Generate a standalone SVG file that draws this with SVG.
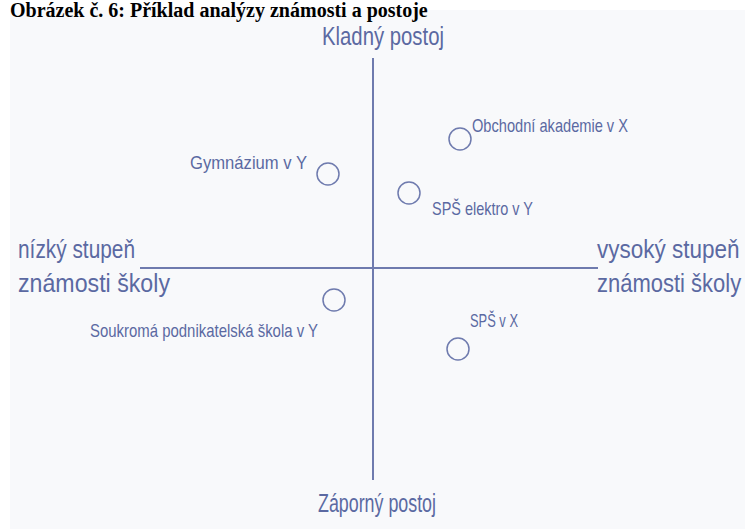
<svg xmlns="http://www.w3.org/2000/svg" width="755" height="529" viewBox="0 0 755 529">
<style>
.t{font-family:"Liberation Sans",Arial,sans-serif;fill:#5b69a2;}
.big{font-size:25px;}
.sm{font-size:19px;}
.ax{stroke:#6f7bae;stroke-width:2;fill:none;}
.dot{stroke:#6f7bae;stroke-width:1.5;fill:none;}
.title{font-family:"Liberation Serif","Times New Roman",serif;font-weight:bold;font-size:20px;fill:#000;}
</style>
<rect width="755" height="529" fill="#ffffff"/>
<rect x="10" y="10" width="735" height="519" fill="#f8f9fb"/>
<text class="title" x="10" y="17">Obrázek č. 6: Příklad analýzy známosti a postoje</text>
<g id="connectors">
<line class="ax" x1="373" y1="58" x2="373" y2="480"/>
<line class="ax" x1="140" y1="268" x2="598" y2="268"/>
</g>
<g id="axis-top"><text class="t big" x="322" y="45" textLength="122" lengthAdjust="spacingAndGlyphs">Kladný postoj</text></g>
<g id="axis-bottom"><text class="t big" x="318" y="512" textLength="118" lengthAdjust="spacingAndGlyphs">Záporný postoj</text></g>
<g id="axis-left">
<text class="t big" x="18" y="258" textLength="117" lengthAdjust="spacingAndGlyphs">nízký stupeň</text>
<text class="t big" x="18" y="292" textLength="152" lengthAdjust="spacingAndGlyphs">známosti školy</text>
</g>
<g id="axis-right">
<text class="t big" transform="translate(597,258) scale(0.9,1)">vysoký stupeň</text>
<text class="t big" transform="translate(597,292) scale(0.88,1)">známosti školy</text>
</g>
<g id="obchodni">
<circle class="dot" cx="460" cy="139" r="11"/>
<text class="t sm" x="472" y="132" textLength="156" lengthAdjust="spacingAndGlyphs">Obchodní akademie v X</text>
</g>
<g id="gymnazium">
<circle class="dot" cx="328" cy="174" r="11"/>
<text class="t sm" x="190" y="169" textLength="117" lengthAdjust="spacingAndGlyphs">Gymnázium v Y</text>
</g>
<g id="sps-elektro">
<circle class="dot" cx="409" cy="193" r="11"/>
<text class="t sm" x="432" y="215" textLength="101" lengthAdjust="spacingAndGlyphs">SPŠ elektro v Y</text>
</g>
<g id="soukroma">
<circle class="dot" cx="334" cy="300" r="11"/>
<text class="t sm" x="90" y="337" textLength="228" lengthAdjust="spacingAndGlyphs">Soukromá podnikatelská škola v Y</text>
</g>
<g id="sps-x">
<circle class="dot" cx="458" cy="349" r="11"/>
<text class="t sm" x="470" y="327" textLength="48" lengthAdjust="spacingAndGlyphs">SPŠ v X</text>
</g>
</svg>
